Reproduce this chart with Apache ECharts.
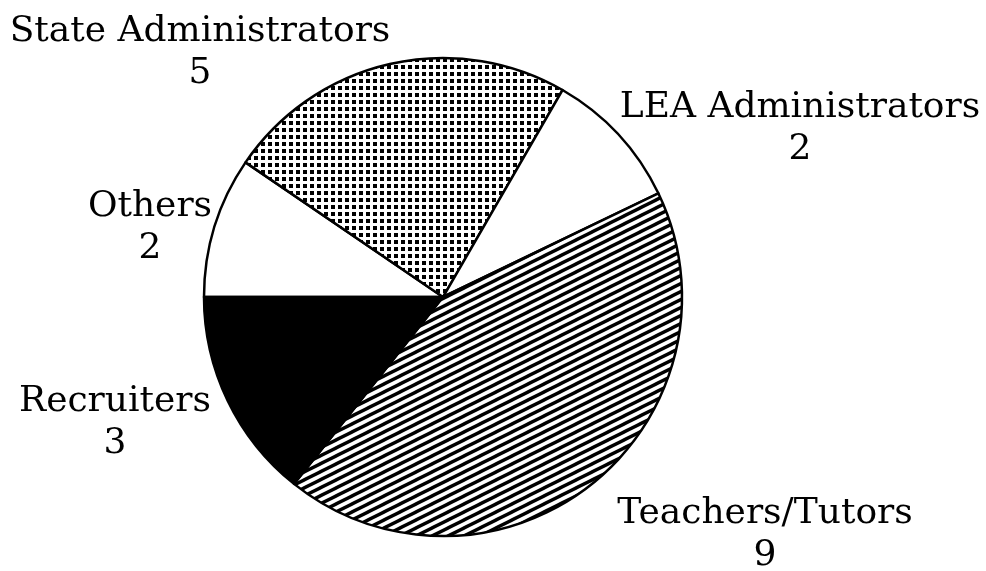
<!DOCTYPE html>
<html>
<head>
<meta charset="utf-8">
<script src="https://cdn.jsdelivr.net/npm/echarts@6/dist/echarts.min.js"></script>
<style>
  html, body { margin: 0; padding: 0; background: #fff; }
  #chart { width: 986px; height: 571px; }
</style>
</head>
<body>
<div id="chart"></div>
<script>
// slices in clockwise order starting at 9 o'clock
var names = ['Others', 'State Administrators', 'LEA Administrators', 'Teachers/Tutors', 'Recruiters'];
var counts = [2, 5, 2, 9, 3];

// fill patterns
function dotPattern() {
    var c = document.createElement('canvas');
    c.width = 7; c.height = 7;
    var ctx = c.getContext('2d');
    ctx.fillStyle = '#fff';
    ctx.fillRect(0, 0, 7, 7);
    ctx.fillStyle = '#000';
    ctx.fillRect(2, 2, 4, 4);
    return c;
}
function hatchPattern() {
    var w = 16, h = 8;
    var c = document.createElement('canvas');
    c.width = w; c.height = h;
    var ctx = c.getContext('2d');
    ctx.fillStyle = '#fff';
    ctx.fillRect(0, 0, w, h);
    ctx.strokeStyle = '#000';
    ctx.lineWidth = 3.4;
    for (var k = -1; k <= 2; k++) {
        ctx.beginPath();
        ctx.moveTo(-4, h + 2 + k * h);
        ctx.lineTo(w + 4, -2 + k * h);
        ctx.stroke();
    }
    return c;
}

var fills = [
    '#fff',
    { image: dotPattern(), repeat: 'repeat' },
    '#fff',
    { image: hatchPattern(), repeat: 'repeat' },
    '#000'
];

// where each label block sits
var labelPos = [
    [150, 228],
    [200, 53],
    [800, 129],
    [765, 535],
    [115, 423]
];

var chart = echarts.init(document.getElementById('chart'));
chart.setOption({
    backgroundColor: '#fff',
    animation: false,
    series: [{
        type: 'pie',
        center: [443, 297],
        radius: 239,
        startAngle: 180,
        clockwise: true,
        data: names.map(function (n, i) {
            return { name: n, value: counts[i], itemStyle: { color: fills[i] } };
        }),
        itemStyle: {
            borderColor: '#000',
            borderWidth: 2.5
        },
        label: {
            show: true,
            position: 'outside',
            formatter: '{b}\n{c}',
            fontFamily: 'DejaVu Serif',
            fontSize: 36,
            lineHeight: 42,
            color: '#000',
            align: 'center',
            overflow: 'none'
        },
        labelLine: { show: false },
        labelLayout: function (p) {
            var pos = labelPos[p.dataIndex];
            return { x: pos[0], y: pos[1], width: 600, align: 'center', verticalAlign: 'middle' };
        },
        emphasis: { disabled: true }
    }]
});
</script>
</body>
</html>
